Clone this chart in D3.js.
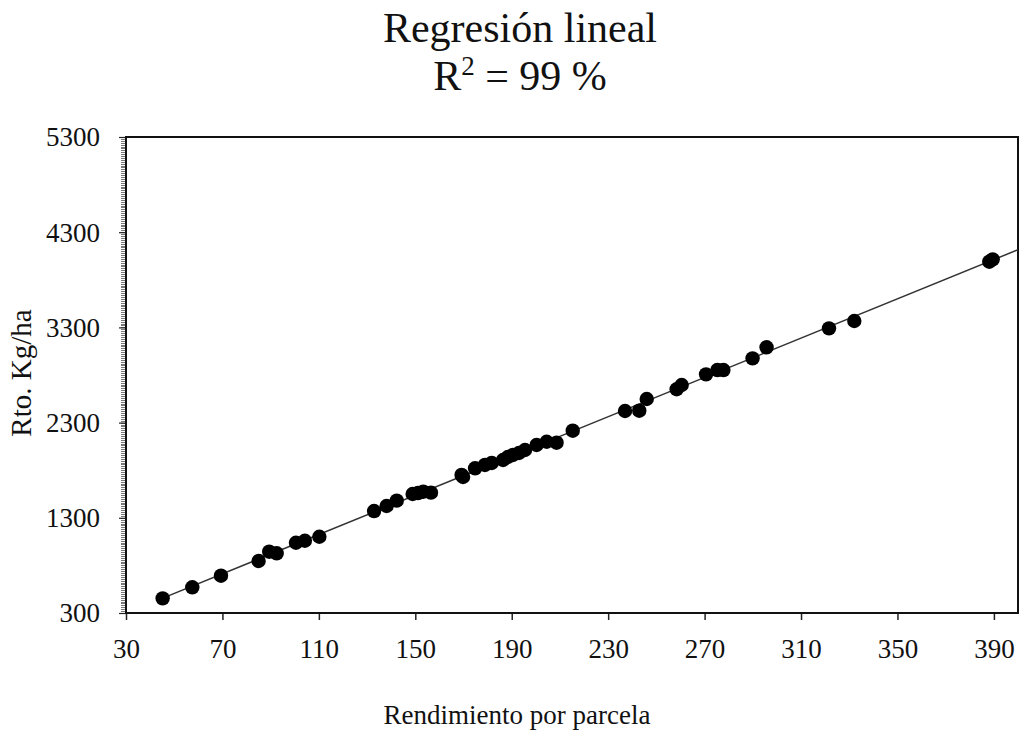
<!DOCTYPE html>
<html><head><meta charset="utf-8">
<script src="https://cdn.jsdelivr.net/npm/d3@7"></script>
<style>body{margin:0;background:#fff}svg{display:block}text{font-family:"Liberation Serif","Times New Roman",serif;fill:#111}</style>
</head><body><svg id="c" width="1021" height="736"></svg>
<script>
const xTicks = [30,70,110,150,190,230,270,310,350,390];
const yTicks = [300,1300,2300,3300,4300,5300];
const xValues = [45.2,57.5,69.4,85.0,89.4,92.5,100.5,104.2,110.2,132.9,138.1,142.3,148.9,151.1,153.3,156.5,169.2,169.8,174.8,178.9,181.7,186.4,188.4,190.5,193.0,195.5,200.3,204.5,208.6,215.3,237.0,242.9,246.0,258.4,260.5,270.6,275.3,277.8,289.9,295.7,321.6,332.1,388.1,389.5];
const yValues = [454,570,692,846,944,927,1038,1059,1101,1371,1424,1480,1550,1560,1574,1564,1750,1729,1820,1855,1876,1907,1939,1960,1981,2012,2065,2099,2089,2215,2422,2425,2548,2650,2695,2807,2852,2852,2975,3091,3290,3367,3990,4015];
const titleLines = ["Regresión lineal"];
const xTitle = "Rendimiento por parcela";
const yTitle = "Rto. Kg/ha";

const svg = d3.select("#c");
const L=126,R=1018,T=137,B=613;
const x = d3.scaleLinear().domain([30,400]).range([L,R]);
const y = d3.scaleLinear().domain([300,5300]).range([B,T]);

// least-squares fit of the data
const n=xValues.length, mx=d3.mean(xValues), my=d3.mean(yValues);
let sxy=0,sxx=0; for(let i=0;i<n;i++){sxy+=(xValues[i]-mx)*(yValues[i]-my);sxx+=(xValues[i]-mx)**2;}
const slope=sxy/sxx, icpt=my-slope*mx;
const x0=d3.min(xValues)-2, x1=400;

// minor ticks on y
const minor=d3.range(300,5301,20);
svg.append("g").selectAll("line").data(minor).join("line")
  .attr("x1",L-5).attr("x2",L).attr("y1",d=>Math.round(y(d))+0.5).attr("y2",d=>Math.round(y(d))+0.5)
  .attr("stroke","#777").attr("stroke-width",1);

// y axis major
const ya=svg.append("g").attr("transform",`translate(${L},0)`).call(d3.axisLeft(y).tickValues(yTicks).tickSize(7).tickPadding(19).tickFormat(d3.format("d")));
ya.select(".domain").remove();
ya.selectAll("line").attr("stroke","#222").attr("stroke-width",1.2);
ya.selectAll("text").attr("font-size",27).attr("font-family","Liberation Serif").attr("dy","0.33em");

const xa=svg.append("g").attr("transform",`translate(0,${B})`).call(d3.axisBottom(x).tickValues(xTicks).tickSize(7).tickPadding(19).tickFormat(d3.format("d")));
xa.select(".domain").remove();
xa.selectAll("line").attr("stroke","#222").attr("stroke-width",1.5);
xa.selectAll("text").attr("font-size",27).attr("font-family","Liberation Serif");

// frame
svg.append("rect").attr("x",L).attr("y",T).attr("width",R-L).attr("height",B-T)
  .attr("fill","none").attr("stroke","#111").attr("stroke-width",2);

// regression line
svg.append("line").attr("x1",x(x0)).attr("y1",y(icpt+slope*x0)).attr("x2",x(x1)).attr("y2",y(icpt+slope*x1))
  .attr("stroke","#333").attr("stroke-width",1.5);

// points
svg.append("g").selectAll("circle").data(xValues.map((v,i)=>[v,yValues[i]])).join("circle")
  .attr("cx",d=>x(d[0])).attr("cy",d=>y(d[1])).attr("r",7.2).attr("fill","#000");

// titles
svg.append("text").attr("x",520).attr("y",42).attr("text-anchor","middle").attr("font-size",42).text(titleLines[0]);
const t2=svg.append("text").attr("x",520).attr("y",90).attr("text-anchor","middle").attr("font-size",42);
t2.append("tspan").text("R");
t2.append("tspan").attr("font-size",27).attr("dy",-15).text("2");
t2.append("tspan").attr("dy",15).text(" = 99 %");

svg.append("text").attr("x",517).attr("y",724).attr("text-anchor","middle").attr("font-size",27).text(xTitle);
svg.append("text").attr("transform","translate(31,373) rotate(-90)").attr("text-anchor","middle").attr("font-size",29).text(yTitle);
</script></body></html>
